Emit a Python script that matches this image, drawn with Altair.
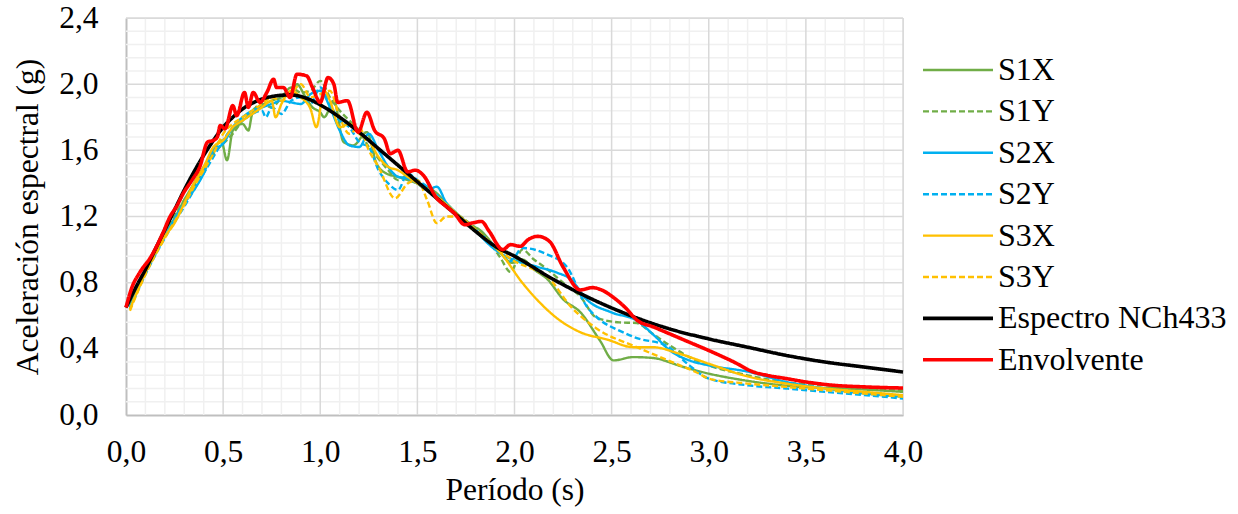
import altair as alt
import pandas as pd

FONT = "Liberation Serif, Times New Roman, serif"

series_names = ["S1X", "S1Y", "S2X", "S2Y", "S3X", "S3Y", "Espectro NCh433", "Envolvente"]
series_colors = ["#70AD47", "#70AD47", "#00B0F0", "#00B0F0", "#FFC000", "#FFC000", "#000000", "#FF0000"]
series_dash = [[1, 0], [6, 3], [1, 0], [6, 3], [1, 0], [6, 3], [1, 0], [1, 0]]
series_width = [2.4, 2.4, 2.4, 2.4, 2.4, 2.4, 3.6, 3.6]

s1x_t = [0.02, 0.05, 0.1, 0.15, 0.2, 0.25, 0.3, 0.35, 0.4, 0.45, 0.49, 0.52, 0.55, 0.6, 0.63, 0.65, 0.7, 0.75, 0.8, 0.85, 0.88, 0.92, 0.96, 1.0, 1.02, 1.07, 1.12, 1.17, 1.24, 1.29, 1.34, 1.4, 1.45, 1.5, 1.55, 1.6, 1.65, 1.7, 1.75, 1.82, 1.9, 1.99, 2.04, 2.1, 2.17, 2.25, 2.34, 2.44, 2.51, 2.61, 2.71, 2.87, 3.0, 3.13, 3.3, 3.47, 3.7, 4.0]
s1x_v = [0.66, 0.74, 0.86, 0.97, 1.09, 1.19, 1.30, 1.40, 1.50, 1.60, 1.66, 1.54, 1.72, 1.76, 1.72, 1.82, 1.87, 1.90, 1.92, 1.95, 2.00, 1.93, 1.86, 1.83, 1.80, 1.90, 1.65, 1.63, 1.71, 1.52, 1.46, 1.44, 1.42, 1.40, 1.38, 1.34, 1.28, 1.22, 1.16, 1.12, 1.02, 0.92, 0.94, 0.88, 0.82, 0.70, 0.62, 0.45, 0.33, 0.35, 0.345, 0.29, 0.25, 0.22, 0.19, 0.17, 0.16, 0.14]

s1y_t = [0.02, 0.1, 0.2, 0.3, 0.35, 0.4, 0.45, 0.5, 0.55, 0.6, 0.65, 0.7, 0.75, 0.8, 0.85, 0.9, 0.95, 1.0, 1.05, 1.1, 1.15, 1.2, 1.25, 1.3, 1.35, 1.4, 1.45, 1.5, 1.55, 1.6, 1.7, 1.8, 1.86, 1.925, 1.98, 2.04, 2.1, 2.17, 2.25, 2.34, 2.42, 2.54, 2.63, 2.7, 2.8, 2.9, 3.0, 3.2, 3.38, 3.6, 3.8, 4.0]
s1y_v = [0.65, 0.86, 1.09, 1.30, 1.38, 1.48, 1.58, 1.64, 1.70, 1.78, 1.84, 1.88, 1.86, 1.92, 1.98, 1.95, 1.96, 2.02, 1.92, 1.84, 1.78, 1.72, 1.62, 1.55, 1.48, 1.42, 1.45, 1.40, 1.36, 1.32, 1.22, 1.13, 1.06, 0.955, 0.865, 1.00, 0.94, 0.88, 0.80, 0.715, 0.59, 0.56, 0.556, 0.50, 0.42, 0.35, 0.30, 0.24, 0.20, 0.18, 0.165, 0.15]

s2x_t = [0.02, 0.1, 0.2, 0.3, 0.35, 0.4, 0.45, 0.5, 0.55, 0.6, 0.65, 0.7, 0.75, 0.8, 0.85, 0.9, 0.95, 1.0, 1.05, 1.1, 1.15, 1.2, 1.25, 1.3, 1.35, 1.4, 1.45, 1.5, 1.55, 1.6, 1.65, 1.7, 1.8, 1.9, 1.99, 2.12, 2.22, 2.29, 2.37, 2.5, 2.63, 2.72, 2.8, 2.9, 3.0, 3.21, 3.4, 3.6, 3.8, 4.0]
s2x_v = [0.65, 0.86, 1.08, 1.28, 1.36, 1.46, 1.60, 1.64, 1.74, 1.80, 1.84, 1.86, 1.88, 1.90, 1.89, 1.88, 1.94, 1.96, 1.86, 1.72, 1.63, 1.62, 1.70, 1.60, 1.50, 1.44, 1.43, 1.40, 1.36, 1.38, 1.28, 1.22, 1.11, 1.00, 0.94, 0.895, 0.86, 0.82, 0.70, 0.62, 0.57, 0.48, 0.39, 0.33, 0.30, 0.26, 0.20, 0.16, 0.13, 0.11]

s2y_t = [0.02, 0.1, 0.2, 0.3, 0.35, 0.4, 0.45, 0.5, 0.55, 0.6, 0.65, 0.7, 0.72, 0.75, 0.8, 0.85, 0.9, 0.95, 1.0, 1.05, 1.1, 1.15, 1.2, 1.25, 1.3, 1.35, 1.4, 1.45, 1.5, 1.55, 1.6, 1.7, 1.8, 1.9, 1.98, 2.04, 2.17, 2.27, 2.37, 2.44, 2.54, 2.63, 2.78, 2.9, 3.0, 3.2, 3.4, 3.6, 3.8, 4.0]
s2y_v = [0.64, 0.85, 1.07, 1.26, 1.36, 1.46, 1.56, 1.66, 1.74, 1.78, 1.82, 1.84, 1.80, 1.86, 1.82, 1.90, 1.92, 1.88, 1.98, 1.88, 1.78, 1.74, 1.65, 1.62, 1.48, 1.40, 1.36, 1.46, 1.42, 1.38, 1.33, 1.22, 1.12, 1.02, 0.93, 1.01, 0.97, 0.895, 0.66, 0.575, 0.51, 0.465, 0.42, 0.30, 0.22, 0.18, 0.16, 0.14, 0.12, 0.10]

s3x_t = [0.02, 0.1, 0.2, 0.25, 0.3, 0.35, 0.4, 0.45, 0.5, 0.55, 0.6, 0.65, 0.7, 0.75, 0.77, 0.8, 0.85, 0.9, 0.95, 0.98, 1.02, 1.05, 1.1, 1.15, 1.2, 1.25, 1.3, 1.35, 1.4, 1.45, 1.5, 1.55, 1.6, 1.7, 1.82, 1.925, 2.04, 2.13, 2.23, 2.34, 2.48, 2.61, 2.71, 2.85, 3.0, 3.21, 3.4, 3.6, 3.8, 4.0]
s3x_v = [0.64, 0.86, 1.08, 1.16, 1.28, 1.40, 1.50, 1.62, 1.66, 1.74, 1.78, 1.82, 1.86, 1.90, 1.80, 1.88, 1.96, 1.92, 1.85, 1.74, 1.96, 1.90, 1.74, 1.76, 1.70, 1.66, 1.56, 1.50, 1.48, 1.44, 1.40, 1.36, 1.32, 1.22, 1.09, 0.985, 0.80, 0.68, 0.575, 0.50, 0.455, 0.41, 0.41, 0.37, 0.31, 0.23, 0.19, 0.16, 0.14, 0.12]

s3y_t = [0.02, 0.1, 0.2, 0.3, 0.35, 0.4, 0.45, 0.5, 0.55, 0.6, 0.65, 0.7, 0.75, 0.8, 0.85, 0.9, 0.95, 1.0, 1.05, 1.1, 1.15, 1.2, 1.25, 1.3, 1.385, 1.45, 1.5, 1.55, 1.6, 1.65, 1.7, 1.8, 1.9, 2.0, 2.1, 2.17, 2.29, 2.42, 2.63, 2.79, 2.95, 3.0, 3.2, 3.4, 3.6, 3.8, 4.0]
s3y_v = [0.63, 0.85, 1.07, 1.27, 1.38, 1.48, 1.58, 1.70, 1.76, 1.80, 1.84, 1.88, 1.92, 1.90, 1.94, 2.00, 1.92, 1.94, 1.96, 1.80, 1.70, 1.74, 1.60, 1.50, 1.31, 1.40, 1.42, 1.30, 1.16, 1.20, 1.20, 1.12, 1.02, 0.93, 0.88, 0.835, 0.655, 0.525, 0.41, 0.33, 0.25, 0.22, 0.19, 0.17, 0.15, 0.13, 0.11]

nch_t = [0.0, 0.05, 0.1, 0.15, 0.2, 0.25, 0.3, 0.35, 0.4, 0.45, 0.5, 0.55, 0.6, 0.65, 0.7, 0.75, 0.8, 0.85, 0.9, 0.95, 1.0, 1.1, 1.2, 1.3, 1.4, 1.5, 1.6, 1.7, 1.8, 1.9, 2.0, 2.2, 2.4, 2.6, 2.8, 3.0, 3.2, 3.4, 3.6, 3.8, 4.0]
nch_v = [0.65, 0.77, 0.88, 1.00, 1.12, 1.24, 1.36, 1.47, 1.57, 1.66, 1.74, 1.80, 1.85, 1.885, 1.91, 1.925, 1.933, 1.935, 1.925, 1.905, 1.875, 1.80, 1.71, 1.61, 1.51, 1.41, 1.31, 1.21, 1.11, 1.02, 0.96, 0.82, 0.70, 0.60, 0.52, 0.46, 0.41, 0.36, 0.32, 0.29, 0.26]

env_t = [0.0, 0.03, 0.07, 0.13, 0.19, 0.227, 0.26, 0.295, 0.34, 0.38, 0.42, 0.45, 0.47, 0.485, 0.51, 0.55, 0.57, 0.61, 0.63, 0.655, 0.69, 0.725, 0.76, 0.775, 0.81, 0.845, 0.88, 0.93, 0.96, 1.0, 1.04, 1.07, 1.09, 1.14, 1.195, 1.24, 1.28, 1.33, 1.36, 1.4, 1.45, 1.49, 1.53, 1.6, 1.65, 1.69, 1.745, 1.78, 1.83, 1.87, 1.94, 1.98, 2.03, 2.07, 2.12, 2.18, 2.25, 2.34, 2.4, 2.45, 2.51, 2.57, 2.63, 2.72, 2.8, 2.9, 3.0, 3.13, 3.23, 3.3, 3.4, 3.5, 3.64, 3.8, 4.0]
env_v = [0.65, 0.77, 0.86, 0.96, 1.10, 1.20, 1.26, 1.34, 1.42, 1.50, 1.65, 1.66, 1.68, 1.75, 1.73, 1.87, 1.81, 1.95, 1.86, 1.95, 1.89, 1.95, 2.03, 1.98, 1.98, 1.92, 2.06, 2.05, 1.98, 1.89, 2.04, 2.00, 1.89, 1.90, 1.71, 1.83, 1.72, 1.67, 1.58, 1.60, 1.47, 1.48, 1.45, 1.31, 1.26, 1.22, 1.15, 1.16, 1.17, 1.11, 1.00, 1.03, 1.02, 1.06, 1.08, 1.05, 0.895, 0.756, 0.77, 0.755, 0.71, 0.65, 0.574, 0.53, 0.49, 0.44, 0.39, 0.32, 0.26, 0.24, 0.22, 0.20, 0.18, 0.17, 0.163]

x_major = [0.0, 0.5, 1.0, 1.5, 2.0, 2.5, 3.0, 3.5, 4.0]
x_minor = [0.1, 0.2, 0.3, 0.4, 0.6, 0.7, 0.8, 0.9, 1.1, 1.2, 1.3, 1.4, 1.6, 1.7, 1.8, 1.9,
           2.1, 2.2, 2.3, 2.4, 2.6, 2.7, 2.8, 2.9, 3.1, 3.2, 3.3, 3.4, 3.6, 3.7, 3.8, 3.9]
y_major = [0.0, 0.4, 0.8, 1.2, 1.6, 2.0, 2.4]
y_minor = [0.08, 0.16, 0.24, 0.32, 0.48, 0.56, 0.64, 0.72, 0.88, 0.96, 1.04, 1.12,
           1.28, 1.36, 1.44, 1.52, 1.68, 1.76, 1.84, 1.92, 2.08, 2.16, 2.24, 2.32]

all_t = [s1x_t, s1y_t, s2x_t, s2y_t, s3x_t, s3y_t, nch_t, env_t]
all_v = [s1x_v, s1y_v, s2x_v, s2y_v, s3x_v, s3y_v, nch_v, env_v]

rows = []
for name, ts, vs in zip(series_names, all_t, all_v):
    for i, (t, v) in enumerate(zip(ts, vs)):
        rows.append({"series": name, "T": t, "Sa": v, "i": i})
df = pd.DataFrame(rows)

xscale = alt.Scale(domain=[0, 4], nice=False, zero=False)
yscale = alt.Scale(domain=[0, 2.4], nice=False, zero=False)

fmt = "replace(format(datum.value, '.1f'), '.', ',')"

xminor = alt.Chart(pd.DataFrame({"v": x_minor})).mark_rule(color="#f0f0f0", strokeWidth=1.5).encode(
    x=alt.X("v:Q", scale=xscale))
yminor = alt.Chart(pd.DataFrame({"v": y_minor})).mark_rule(color="#f0f0f0", strokeWidth=1.5).encode(
    y=alt.Y("v:Q", scale=yscale))
xmaj = alt.Chart(pd.DataFrame({"v": x_major[1:]})).mark_rule(color="#d9d9d9", strokeWidth=1.5).encode(
    x=alt.X("v:Q", scale=xscale))
ymaj = alt.Chart(pd.DataFrame({"v": y_major[1:]})).mark_rule(color="#d9d9d9", strokeWidth=1.5).encode(
    y=alt.Y("v:Q", scale=yscale))

legend = alt.Legend(
    orient="none", legendX=786, legendY=36, title=None,
    symbolType="M -1 0 H 13", symbolSize=100,
    labelFont=FONT, labelFontSize=32, labelColor="#000000",
    labelOffset=54, rowPadding=9.4, padding=0, labelLimit=400,
)

lines = alt.Chart(df).mark_line(interpolate="monotone").encode(
    x=alt.X("T:Q", scale=xscale,
            axis=alt.Axis(values=x_major, title="Período (s)", labelExpr=fmt, grid=False,
                          ticks=False, domainColor="#bfbfbf", domainWidth=2,
                          labelFont=FONT, labelFontSize=31.5, labelColor="#000000", labelPadding=21,
                          titleFont=FONT, titleFontSize=31.5, titleFontWeight="normal",
                          titleColor="#000000", titlePadding=7, labelFlush=False)),
    y=alt.Y("Sa:Q", scale=yscale,
            axis=alt.Axis(values=y_major, title="Aceleración espectral (g)", labelExpr=fmt, grid=False,
                          ticks=False, domainColor="#bfbfbf", domainWidth=2,
                          labelFont=FONT, labelFontSize=31.5, labelColor="#000000", labelPadding=28,
                          titleFont=FONT, titleFontSize=31.5, titleFontWeight="normal",
                          titleColor="#000000", titlePadding=14, labelFlush=False)),
    color=alt.Color("series:N", scale=alt.Scale(domain=series_names, range=series_colors), legend=legend),
    strokeDash=alt.StrokeDash("series:N", scale=alt.Scale(domain=series_names, range=series_dash), legend=legend),
    strokeWidth=alt.StrokeWidth("series:N", scale=alt.Scale(type="ordinal", domain=series_names, range=series_width), legend=legend),
    detail="series:N",
    order="i:Q",
)

chart = alt.layer(xminor, yminor, xmaj, ymaj, lines).properties(
    width=777, height=397,
    autosize=alt.AutoSizeParams(type="none"),
    padding={"left": 126, "top": 18, "right": 335, "bottom": 99},
).configure_view(stroke=None).configure(background="#ffffff", font=FONT)

chart.save("out.html", embed_options={"renderer": "svg", "actions": False})
